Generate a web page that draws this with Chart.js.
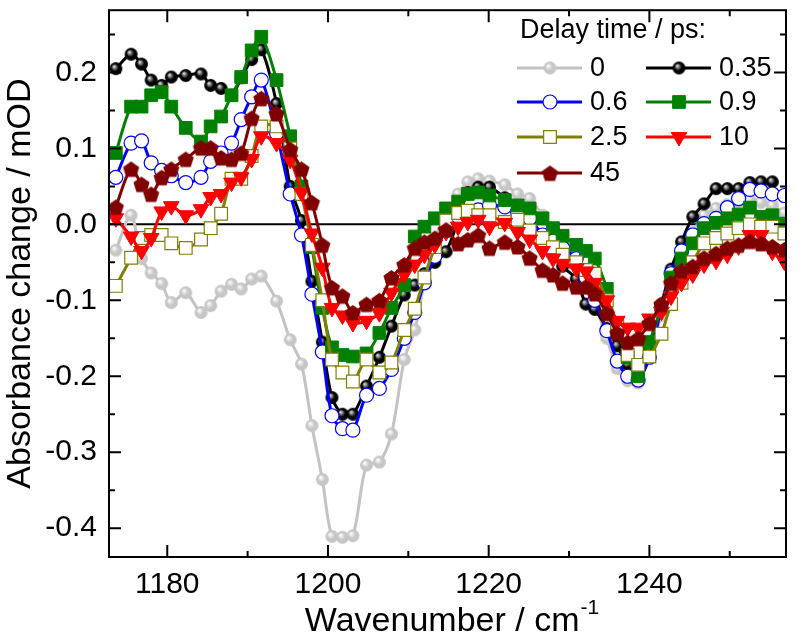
<!DOCTYPE html>
<html>
<head>
<meta charset="utf-8">
<script src="https://cdn.jsdelivr.net/npm/chart.js@4.4.1/dist/chart.umd.min.js"></script>
<style>
    html, body { margin: 0; padding: 0; background: #fff; }
    #chart { display: block; }
</style>
</head>
<body>
<canvas id="chart" width="800" height="638"></canvas>
<script>
const wavenumber = [1173.6, 1175.5, 1176.8, 1178.0, 1179.3, 1180.5, 1182.3, 1184.2, 1185.4, 1186.7,
    1188.0, 1189.2, 1190.5, 1191.7, 1193.6, 1195.3, 1196.7, 1198.0, 1199.3, 1200.5,
    1201.8, 1203.1, 1204.8, 1206.4, 1207.9, 1209.5, 1210.8, 1212.0, 1213.3, 1214.7,
    1216.2, 1217.4, 1218.7, 1220.1, 1222.0, 1223.6, 1225.1, 1226.7, 1228.0, 1229.2,
    1230.9, 1232.1, 1233.2, 1234.7, 1236.0, 1237.3, 1238.6, 1240.0, 1241.5, 1242.7,
    1244.0, 1245.4, 1246.8, 1248.3, 1249.7, 1251.1, 1252.5, 1253.9, 1255.3, 1256.8];

const delay0 = [-0.034, 0.012, -0.045, -0.064, -0.078, -0.103, -0.090, -0.116, -0.107, -0.088,
    -0.079, -0.085, -0.072, -0.068, -0.101, -0.152, -0.184, -0.265, -0.336, -0.411,
    -0.412, -0.410, -0.317, -0.313, -0.276, -0.178, -0.139, -0.075, -0.020, 0.015,
    0.040, 0.056, 0.060, 0.057, 0.052, 0.040, 0.034, 0.012, -0.007, -0.022,
    -0.045, -0.075, -0.105, -0.150, -0.190, -0.206, -0.209, -0.170, -0.120, -0.080,
    -0.040, -0.010, 0.012, 0.021, 0.026, 0.029, 0.032, 0.029, 0.025, 0.015];
const delay035 = [0.205, 0.224, 0.211, 0.190, 0.183, 0.194, 0.196, 0.198, 0.183, 0.179,
    0.170, 0.193, 0.217, 0.230, 0.159, 0.050, 0.005, -0.075, -0.155, -0.228,
    -0.250, -0.250, -0.213, -0.175, -0.134, -0.093, -0.080, -0.065, -0.050, -0.036,
    0.005, 0.042, 0.049, 0.049, 0.035, 0.020, 0.005, -0.015, -0.030, -0.055,
    -0.072, -0.105, -0.112, -0.137, -0.160, -0.185, -0.190, -0.165, -0.105, -0.059,
    -0.023, 0.010, 0.027, 0.047, 0.047, 0.047, 0.055, 0.056, 0.056, null];
const delay06 = [0.062, 0.107, 0.110, 0.081, 0.071, 0.064, 0.055, 0.062, 0.083, 0.094,
    0.107, 0.138, 0.168, 0.190, 0.120, 0.040, -0.014, -0.092, -0.168, -0.252,
    -0.269, -0.271, -0.225, -0.216, -0.191, -0.150, -0.116, -0.077, -0.042, -0.005,
    0.010, 0.016, 0.019, 0.025, 0.023, 0.016, 0.008, -0.014, -0.022, -0.031,
    -0.045, -0.070, -0.100, -0.140, -0.180, -0.200, -0.205, -0.175, -0.110, -0.065,
    -0.035, -0.014, 0.001, 0.008, 0.022, 0.034, 0.046, 0.044, 0.040, 0.038];
const delay09 = [0.094, 0.155, 0.155, 0.170, 0.174, 0.155, 0.127, 0.109, 0.129, 0.142,
    0.170, 0.194, 0.229, 0.247, 0.190, 0.116, 0.050, -0.030, -0.110, -0.162,
    -0.172, -0.174, -0.170, -0.143, -0.110, -0.080, -0.016, -0.003, 0.008, 0.021,
    0.030, 0.040, 0.042, 0.038, 0.032, 0.025, 0.021, 0.008, -0.005, -0.015,
    -0.027, -0.035, -0.045, -0.085, -0.140, -0.175, -0.200, -0.155, -0.110, -0.070,
    -0.045, -0.025, -0.005, 0.002, 0.008, 0.013, 0.022, 0.010, 0.012, 0.001];
const delay25 = [-0.081, -0.044, -0.018, -0.014, -0.014, -0.025, -0.031, -0.020, -0.005, 0.014,
    0.060, 0.060, 0.090, 0.129, 0.129, 0.100, 0.040, -0.027, -0.100, -0.178,
    -0.195, -0.207, -0.178, -0.195, -0.182, -0.139, -0.111, -0.070, -0.030, 0.005,
    0.015, 0.018, 0.012, 0.012, 0.003, 0.006, -0.008, -0.018, -0.030, -0.040,
    -0.050, -0.060, -0.065, -0.100, -0.130, -0.172, -0.185, -0.174, -0.144, -0.105,
    -0.077, -0.050, -0.025, -0.018, -0.012, -0.005, 0.000, -0.003, -0.003, -0.012];
const delay10 = [0.008, -0.016, -0.035, -0.018, 0.017, 0.024, 0.012, 0.020, 0.036, 0.040,
    0.055, 0.062, 0.086, 0.116, 0.107, 0.085, 0.042, -0.012, -0.057, -0.110,
    -0.120, -0.130, -0.127, -0.117, -0.090, -0.066, -0.053, -0.040, -0.027, -0.010,
    -0.003, 0.003, 0.006, -0.003, 0.002, -0.010, -0.020, -0.035, -0.045, -0.052,
    -0.058, -0.062, -0.077, -0.100, -0.127, -0.136, -0.136, -0.124, -0.115, -0.095,
    -0.077, -0.066, -0.053, -0.048, -0.040, -0.029, -0.014, -0.014, -0.036, -0.049];
const delay45 = [0.023, 0.073, 0.053, 0.040, 0.062, 0.073, 0.086, 0.101, 0.101, 0.088,
    0.086, 0.094, 0.140, 0.166, 0.146, 0.099, 0.073, 0.029, -0.027, -0.083,
    -0.094, -0.116, -0.105, -0.100, -0.070, -0.053, -0.031, -0.023, -0.018, -0.007,
    -0.025, -0.020, -0.014, -0.031, -0.023, -0.029, -0.044, -0.060, -0.066, -0.077,
    -0.082, -0.082, -0.091, -0.117, -0.143, -0.155, -0.150, -0.130, -0.105, -0.077,
    -0.061, -0.055, -0.044, -0.038, -0.031, -0.027, -0.022, -0.025, -0.029, -0.033];

const delays = ["0", "0.35", "0.6", "0.9", "2.5", "10", "45"];
const xMinorTicks = [1190, 1210, 1230, 1250];
const yMinorTicks = [0.25, 0.15, 0.05, -0.05, -0.15, -0.25, -0.35];

const FONT = "'Liberation Sans', Arial, sans-serif";

function ball(fill, shine, r) {
    const c = document.createElement("canvas"),
        s = Math.ceil(r * 2 + 2),
        g = c.getContext("2d");
    c.width = c.height = s;
    const grad = g.createRadialGradient(s / 2 - r * 0.3, s / 2 - r * 0.35, r * 0.05, s / 2, s / 2, r);
    grad.addColorStop(0, shine);
    grad.addColorStop(0.55, fill);
    grad.addColorStop(1, fill);
    g.fillStyle = grad;
    g.beginPath();
    g.arc(s / 2, s / 2, r, 0, Math.PI * 2);
    g.fill();
    return c;
}

function pentagon(fill, r) {
    const c = document.createElement("canvas"),
        s = Math.ceil(r * 2 + 2),
        g = c.getContext("2d");
    c.width = c.height = s;
    g.fillStyle = fill;
    g.beginPath();
    for (let k = 0; k < 5; k++) {
        const a = -Math.PI / 2 + k * 2 * Math.PI / 5;
        g.lineTo(s / 2 + r * Math.cos(a), s / 2 + 1 + r * Math.sin(a));
    }
    g.closePath();
    g.fill();
    return c;
}

const styles = [
    { color: "#c3c3c3", pointStyle: ball("#c6c6c6", "#ffffff", 6.5), radius: 6.5 },
    { color: "#000000", pointStyle: ball("#000000", "#e0e0e0", 6.5), radius: 6.5 },
    { color: "#0000ff", pointStyle: "circle", radius: 7, fill: "#ffffff", border: "#0000ff", bw: 1.2 },
    { color: "#008000", pointStyle: "rect", radius: 9, fill: "#008000", border: "#008000", bw: 1 },
    { color: "#808000", pointStyle: "rect", radius: 9, fill: "#ffffff", border: "#808000", bw: 1.2 },
    { color: "#ff0000", pointStyle: "triangle", radius: 9, rotation: 180, fill: "#ff0000", border: "#ff0000", bw: 1 },
    { color: "#800000", pointStyle: pentagon("#800000", 8.5), radius: 8.5 },
];

const values = [delay0, delay035, delay06, delay09, delay25, delay10, delay45];

const datasets = values.map((arr, i) => {
    const st = styles[i];
    return {
        label: delays[i],
        data: wavenumber.map((x, k) => ({ x: x, y: arr[k] })),
        order: values.length - i,
        borderColor: st.color,
        backgroundColor: st.color,
        borderWidth: 3,
        tension: 0.3,
        pointStyle: st.pointStyle,
        pointRadius: st.radius,
        pointRotation: st.rotation || 0,
        pointBackgroundColor: st.fill || st.color,
        pointBorderColor: st.border || st.color,
        pointBorderWidth: st.bw || 0,
    };
});

const framePlugin = {
    id: "frame",
    beforeDatasetsDraw(chart) {
        const { ctx, chartArea: a, scales: { y } } = chart,
            y0 = y.getPixelForValue(0);
        ctx.save();
        ctx.strokeStyle = "#000";
        ctx.lineWidth = 2;
        ctx.beginPath();
        ctx.moveTo(a.left, y0);
        ctx.lineTo(a.right, y0);
        ctx.stroke();
        ctx.restore();
    },
    afterDraw(chart) {
        const { ctx, chartArea: a, scales: { x, y } } = chart;
        ctx.save();
        ctx.strokeStyle = "#000";
        ctx.lineWidth = 2;
        ctx.strokeRect(a.left, a.top, a.right - a.left, a.bottom - a.top);

        const xt = (v, len) => {
            const p = x.getPixelForValue(v);
            ctx.moveTo(p, a.bottom); ctx.lineTo(p, a.bottom - len);
            ctx.moveTo(p, a.top); ctx.lineTo(p, a.top + len);
        };
        const yt = (v, len) => {
            const p = y.getPixelForValue(v);
            ctx.moveTo(a.left, p); ctx.lineTo(a.left + len, p);
            ctx.moveTo(a.right, p); ctx.lineTo(a.right - len, p);
        };
        ctx.beginPath();
        x.ticks.forEach(t => xt(t.value, 12));
        xMinorTicks.forEach(v => xt(v, 6));
        y.ticks.forEach(t => yt(t.value, 12));
        yMinorTicks.forEach(v => yt(v, 6));
        ctx.stroke();

        // axis titles
        ctx.fillStyle = "#000";
        ctx.font = "34px " + FONT;
        ctx.textAlign = "center";
        ctx.textBaseline = "middle";
        ctx.save();
        ctx.translate(21, (a.top + a.bottom) / 2);
        ctx.rotate(-Math.PI / 2);
        ctx.fillText("Absorbance change / mOD", 0, 0);
        ctx.restore();

        const main = "Wavenumber / cm",
            sup = "-1";
        ctx.textAlign = "left";
        ctx.textBaseline = "alphabetic";
        const w1 = ctx.measureText(main).width;
        ctx.font = "21px " + FONT;
        const w2 = ctx.measureText(sup).width;
        const x0 = (a.left + a.right) / 2 - (w1 + w2) / 2 + 4;
        ctx.font = "34px " + FONT;
        ctx.fillText(main, x0, 631);
        ctx.font = "21px " + FONT;
        ctx.fillText(sup, x0 + w1 + 1, 614);

        // legend
        ctx.font = "27px " + FONT;
        ctx.textBaseline = "middle";
        ctx.fillText("Delay time / ps:", 520, 31);
        const cols = [517, 646],
            rows = [68, 102, 137, 173];
        datasets.forEach((ds, i) => {
            const lx = cols[i % 2],
                ly = rows[Math.floor(i / 2)],
                st = styles[i];
            ctx.strokeStyle = st.color;
            ctx.lineWidth = 3;
            ctx.beginPath();
            ctx.moveTo(lx, ly);
            ctx.lineTo(lx + 65, ly);
            ctx.stroke();
            ctx.fillStyle = st.fill || st.color;
            ctx.strokeStyle = st.border || st.color;
            ctx.lineWidth = st.bw || 0;
            Chart.helpers.drawPoint(ctx, {
                pointStyle: st.pointStyle,
                radius: st.radius,
                rotation: st.rotation || 0,
                borderWidth: st.bw || 0,
            }, lx + 33, ly);
            ctx.fillStyle = "#000";
            ctx.fillText(ds.label, lx + 73, ly + 1);
        });
        ctx.restore();
    }
};

Chart.defaults.color = "#000";
Chart.defaults.font.family = FONT;

new Chart(document.getElementById("chart"), {
    type: "line",
    data: { datasets: datasets },
    plugins: [framePlugin],
    options: {
        responsive: false,
        animation: false,
        devicePixelRatio: 1,
        events: [],
        layout: { padding: { left: 0, right: 14, top: 2, bottom: 0 } },
        plugins: {
            legend: { display: false },
            tooltip: { enabled: false },
        },
        scales: {
            x: {
                type: "linear",
                min: 1172.75,
                max: 1257,
                grid: { display: false, drawTicks: false },
                border: { display: false },
                ticks: {
                    stepSize: 20,
                    includeBounds: false,
                    padding: 10,
                    maxRotation: 0,
                    font: { size: 30 },
                    callback: v => String(v),
                },
                afterFit: s => {
                    s.height = 81;
                    s.paddingLeft = s.paddingRight = 0;
                },
            },
            y: {
                min: -0.438,
                max: 0.282,
                grid: { display: false, drawTicks: false },
                border: { display: false },
                ticks: {
                    stepSize: 0.1,
                    includeBounds: false,
                    padding: 12,
                    font: { size: 30 },
                    callback: v => v.toFixed(1),
                },
                afterFit: s => {
                    s.width = 109;
                    s.paddingTop = s.paddingBottom = 0;
                },
            },
        },
    },
});
</script>
</body>
</html>
